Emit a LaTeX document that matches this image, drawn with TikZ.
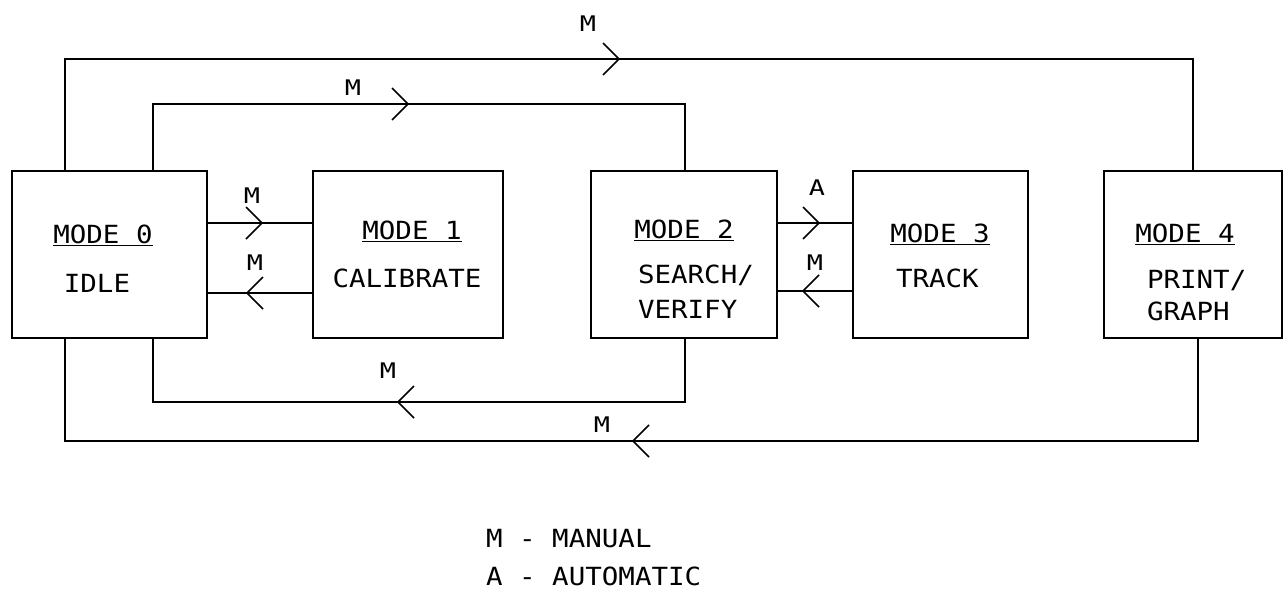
\documentclass[tikz,border=0pt]{standalone}
\usepackage{fontspec}
\newfontfamily\plot[FakeStretch=1.1]{DejaVu Sans Mono}
\newfontfamily\plotw[FakeStretch=1.25]{DejaVu Sans Mono}
\begin{document}
\begin{tikzpicture}[x=1pt,y=-1pt,line width=2pt,
  box/.style={draw,line width=2pt,minimum height=167pt,inner sep=0pt},
  lbl/.style={font=\plot\fontsize{25}{30}\selectfont,inner sep=0pt,anchor=base},
  lblw/.style={lbl,anchor=base west},
  sml/.style={font=\plotw\fontsize{21.5}{24}\selectfont,inner sep=0pt,anchor=base},
  conn/.style={line width=2pt},
  chevR/.pic={\draw[line width=1.7pt] (-16,-16) -- (0,0) -- (-16,16);},
  chevL/.pic={\draw[line width=1.7pt] (16,-16) -- (0,0) -- (16,16);}]
\useasboundingbox[fill=white] (0,0) rectangle (1284,592);

% boxes
\node[box,minimum width=195pt] (m0) at (109.5,254.5) {};
\node[box,minimum width=190pt] (m1) at (408,254.5) {};
\node[box,minimum width=186pt] (m2) at (684,254.5) {};
\node[box,minimum width=175pt] (m3) at (940.5,254.5) {};
\node[box,minimum width=178pt] (m4) at (1193,254.5) {};

% box texts
\node[lbl] (t0a) at (103,243) {\underline{MODE 0}};
\node[lbl] (t0b) at (97,292) {IDLE};
\node[lbl] (t1a) at (412,239) {\underline{MODE 1}};
\node[lbl] (t1b) at (407,287) {CALIBRATE};
\node[lbl] (t2a) at (684,238) {\underline{MODE 2}};
\node[lblw] (t2b) at (637,283) {SEARCH/};
\node[lblw] (t2c) at (637,318) {VERIFY};
\node[lbl] (t3a) at (940,242) {\underline{MODE 3}};
\node[lblw] (t3b) at (895,287) {TRACK};
\node[lbl] (t4a) at (1185,242) {\underline{MODE 4}};
\node[lblw] (t4b) at (1146,288) {PRINT/};
\node[lblw] (t4c) at (1146,320) {GRAPH};

% loop corners
\coordinate (ot) at (600,59);
\coordinate (it) at (400,104);
\coordinate (ib) at (400,402);
\coordinate (ob) at (600,441);

% connectors
\draw[conn] ([xshift=-44.5pt]m0.north) |- (ot) -| (m4.north);
\draw[conn] ([xshift=43.5pt]m0.north) |- (it) -| ([xshift=1pt]m2.north);
\draw[conn] ([xshift=43.5pt]m0.south) |- (ib) -| ([xshift=1pt]m2.south);
\draw[conn] ([xshift=-44.5pt]m0.south) |- (ob) -| ([xshift=5pt]m4.south);
\draw[conn] ([yshift=31.5pt]m0.east) -- ([yshift=31.5pt]m1.west);
\draw[conn] ([yshift=-38.5pt]m0.east) -- ([yshift=-38.5pt]m1.west);
\draw[conn] ([yshift=31.5pt]m2.east) -- ([yshift=31.5pt]m3.west);
\draw[conn] ([yshift=-36.5pt]m2.east) -- ([yshift=-36.5pt]m3.west);

% arrowheads
\pic at (619,59) {chevR};
\pic at (408,104) {chevR};
\pic at (398,402) {chevL};
\pic at (633,441) {chevL};
\pic at (262,223) {chevR};
\pic at (247,293) {chevL};
\pic at (819,223) {chevR};
\pic at (803,291) {chevL};

% connector labels
\node[sml] (l1) at (588,31) {M};
\node[sml] (l2) at (353,95) {M};
\node[sml] (l3) at (252,203) {M};
\node[sml] (l4) at (255,270) {M};
\node[sml] (l5) at (817,195) {A};
\node[sml] (l6) at (815,270) {M};
\node[sml] (l7) at (388,378) {M};
\node[sml] (l8) at (602,432) {M};

% legend
\node[lblw] (g1) at (485,547) {M - MANUAL};
\node[lblw] (g2) at (485,585) {A - AUTOMATIC};
\end{tikzpicture}
\end{document}
